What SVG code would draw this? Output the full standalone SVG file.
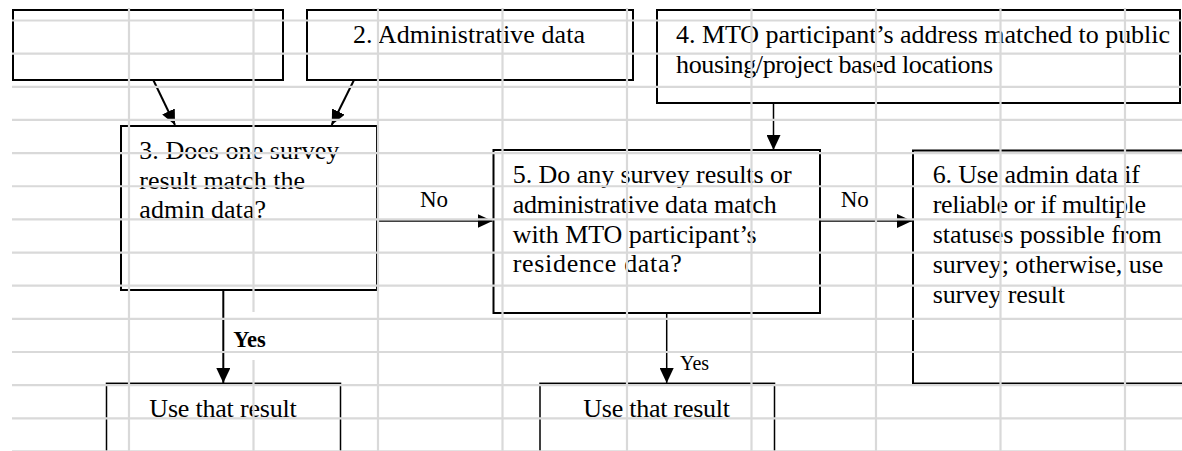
<svg xmlns="http://www.w3.org/2000/svg" width="1182" height="451" viewBox="0 0 1182 451">
<style>
.box{fill:#fff;stroke:#000;stroke-width:2}
.thin{fill:#fff;stroke:#000;stroke-width:1.5}
.t{font-family:"Liberation Serif","Times New Roman",serif;font-size:26px;fill:#000}
.s{font-family:"Liberation Serif","Times New Roman",serif;fill:#000}
.c{fill:none;stroke:#000}
.g{stroke:#d9d9d9;stroke-width:2.2;fill:none}
</style>
<defs>
<marker id="ah" markerUnits="userSpaceOnUse" viewBox="0 0 15 14" refX="15" refY="7" markerWidth="15" markerHeight="14" orient="auto">
<path d="M0,0 L15,7 L0,14 Z" fill="#000"/>
</marker>
</defs>
<rect width="1182" height="451" fill="#fff"/>
<g id="node1"><rect class="box" x="13" y="10" width="270" height="70"/></g>
<g id="node2"><rect class="box" x="307" y="10" width="326" height="70"/>
<text class="t" x="353" y="43" textLength="232" lengthAdjust="spacing">2. Administrative data</text></g>
<g id="node4"><rect class="box" x="657" y="10" width="523" height="93"/>
<text class="t" x="676" y="43.3" textLength="494" lengthAdjust="spacing">4. MTO participant’s address matched to public</text>
<text class="t" x="676" y="73.3" textLength="317" lengthAdjust="spacing">housing/project based locations</text></g>
<g id="node3"><rect class="box" x="121" y="126" width="256" height="164"/>
<text class="t" x="139.3" y="159.3" textLength="200" lengthAdjust="spacing">3. Does one survey</text>
<text class="t" x="139.3" y="188.6" textLength="165.7" lengthAdjust="spacing">result match the</text>
<text class="t" x="139.3" y="218" textLength="126.7" lengthAdjust="spacing">admin data?</text></g>
<g id="node5"><rect class="box" x="493.5" y="150" width="326.5" height="163"/>
<text class="t" x="512.7" y="183.3" textLength="279" lengthAdjust="spacing">5. Do any survey results or</text>
<text class="t" x="512.7" y="213.3" textLength="264" lengthAdjust="spacing">administrative data match</text>
<text class="t" x="512.7" y="242.7" textLength="244" lengthAdjust="spacing">with MTO participant’s</text>
<text class="t" x="512.7" y="271.7" textLength="169" lengthAdjust="spacing">residence data?</text></g>
<g id="node6"><rect class="box" x="913" y="150.5" width="290" height="233"/>
<text class="t" x="932.7" y="182.7" textLength="207.3" lengthAdjust="spacing">6. Use admin data if</text>
<text class="t" x="932.7" y="212.7" textLength="213.3" lengthAdjust="spacing">reliable or if multiple</text>
<text class="t" x="932.7" y="242.7" textLength="229" lengthAdjust="spacing">statuses possible from</text>
<text class="t" x="932.7" y="272.7" textLength="230.6" lengthAdjust="spacing">survey; otherwise, use</text>
<text class="t" x="932.7" y="302.7" textLength="132.3" lengthAdjust="spacing">survey result</text></g>
<g id="node7"><rect class="thin" x="106.5" y="383.3" width="234" height="100"/>
<text class="t" x="149.3" y="416.7" textLength="147.4" lengthAdjust="spacing">Use that result</text></g>
<g id="node8"><rect class="thin" x="540" y="383.3" width="234.5" height="100"/>
<text class="t" x="583.3" y="416.7" textLength="146.7" lengthAdjust="spacing">Use that result</text></g>
<g id="connectors">
<line class="c" x1="153.3" y1="80" x2="175" y2="125" stroke-width="2" marker-end="url(#ah)"/>
<line class="c" x1="354" y1="80" x2="331.7" y2="125" stroke-width="2" marker-end="url(#ah)"/>
<line class="c" x1="773.5" y1="103" x2="773.5" y2="150" stroke-width="1.5" marker-end="url(#ah)"/>
<line class="c" x1="377" y1="221" x2="492.5" y2="221" stroke-width="1.3" marker-end="url(#ah)"/>
<line class="c" x1="820" y1="221" x2="912" y2="221" stroke-width="1.3" marker-end="url(#ah)"/>
<line class="c" x1="223.3" y1="290" x2="223.3" y2="383" stroke-width="2" marker-end="url(#ah)"/>
<line class="c" x1="666.7" y1="313" x2="666.7" y2="383" stroke-width="1.5" marker-end="url(#ah)"/>
<text class="s" x="420" y="207.3" font-size="23">No</text>
<text class="s" x="840.7" y="206.7" font-size="23">No</text>
<text class="s" x="233.3" y="346.7" font-size="22.5" font-weight="bold">Yes</text>
<text class="s" x="680" y="370" font-size="20">Yes</text>
</g>
<g id="grid" class="g">
<path d="M129,8V451 M253.5,8V312 M253.5,360V451 M378,8V451 M502.5,8V451 M627,8V451 M751.5,8V451 M876,8V451 M1000.5,8V451 M1125,8V451"/>
<path d="M12,20.5H1182 M12,53.65H1182 M12,86.8H1182 M12,119.95H1182 M12,153.1H1182 M12,186.25H1182 M12,219.4H1182 M12,252.55H1182 M12,285.7H1182 M12,318.85H1182 M12,352H1182 M12,385.15H1182 M12,418.3H1182 M12,451.45H1182"/>
</g>
</svg>
